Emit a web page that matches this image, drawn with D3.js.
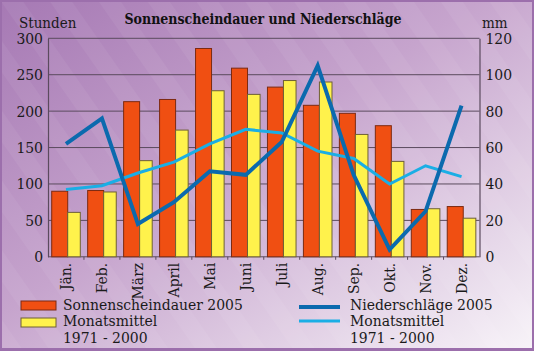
<!DOCTYPE html>
<html>
<head>
<meta charset="utf-8">
<script src="https://cdn.jsdelivr.net/npm/d3@7"></script>
<style>
  body { margin: 0; }
  svg { display: block; font-family: "DejaVu Serif Condensed", "DejaVu Serif", serif; font-stretch: condensed; }
</style>
</head>
<body>
<div id="chart"></div>
<script>
const months = ["Jän.", "Feb.", "März", "April", "Mai", "Juni", "Juli", "Aug.", "Sep.", "Okt.", "Nov.", "Dez."];
const sun2005 = [90, 91, 213, 216, 286, 259, 233, 208, 197, 180, 65, 69];
const sunMean = [61, 89, 132, 174, 228, 223, 242, 240, 168, 131, 66, 53];
const rain2005 = [62, 76, 18, 30, 47, 45, 63, 105, 45, 4, 25, 83];
const rainMean = [37, 39, 46, 52, 62, 70, 68, 58, 54, 40, 50, 44];
const hourTicks = [0, 50, 100, 150, 200, 250, 300];
const mmTicks = [0, 20, 40, 60, 80, 100, 120];

const width = 534;
const height = 351;
const plot = { left: 48, right: 479.5, top: 38.3, bottom: 256.8 };
const fontFamily = '"DejaVu Serif Condensed", "DejaVu Serif", serif';

const svg = d3.select("#chart")
  .append("svg")
  .attr("width", width)
  .attr("height", height);

const defs = svg.append("defs");
const bg = defs.append("linearGradient")
  .attr("id", "bg")
  .attr("x1", "0").attr("y1", "0")
  .attr("x2", "1").attr("y2", "1");
bg.append("stop").attr("offset", "0").attr("stop-color", "#a679b4");
bg.append("stop").attr("offset", "0.45").attr("stop-color", "#c6a4cd");
bg.append("stop").attr("offset", "1").attr("stop-color", "#f7f3f8");

const stripes = defs.append("pattern")
  .attr("id", "stripes")
  .attr("patternUnits", "userSpaceOnUse")
  .attr("width", 40).attr("height", 40)
  .attr("patternTransform", "rotate(-35)");
stripes.append("rect")
  .attr("width", 18).attr("height", 40)
  .attr("fill", "#ffffff").attr("opacity", 0.05);

// frame
svg.append("rect")
  .attr("width", width).attr("height", height)
  .attr("fill", "#9c6fac");
svg.append("rect")
  .attr("x", 2).attr("y", 2)
  .attr("width", width - 4).attr("height", height - 5)
  .attr("fill", "url(#bg)");
svg.append("rect")
  .attr("x", 2).attr("y", 2)
  .attr("width", width - 4).attr("height", height - 5)
  .attr("fill", "url(#stripes)");

const x = d3.scaleBand()
  .domain(months)
  .range([plot.left, plot.right]);

const yHours = d3.scaleLinear()
  .domain([0, 300])
  .range([plot.bottom, plot.top]);

const yMm = d3.scaleLinear()
  .domain([0, 120])
  .range([plot.bottom, plot.top]);

// grid lines
svg.append("g")
  .selectAll("line")
  .data(hourTicks)
  .join("line")
  .attr("x1", plot.left).attr("x2", plot.right)
  .attr("y1", (d) => yHours(d)).attr("y2", (d) => yHours(d))
  .attr("stroke", "#5b4b5e")
  .attr("stroke-width", 1);

// bars
const bw = x.bandwidth();
svg.append("g")
  .selectAll("rect")
  .data(months)
  .join("rect")
  .attr("x", (d) => x(d) + bw * 0.103)
  .attr("y", (d, i) => yHours(sun2005[i]))
  .attr("width", bw * 0.445)
  .attr("height", (d, i) => yHours(0) - yHours(sun2005[i]))
  .attr("fill", "#f04f12")
  .attr("stroke", "#7c2a12")
  .attr("stroke-width", 1);

svg.append("g")
  .selectAll("rect")
  .data(months)
  .join("rect")
  .attr("x", (d) => x(d) + bw * 0.548)
  .attr("y", (d, i) => yHours(sunMean[i]))
  .attr("width", bw * 0.35)
  .attr("height", (d, i) => yHours(0) - yHours(sunMean[i]))
  .attr("fill", "#fff24c")
  .attr("stroke", "#6e6035")
  .attr("stroke-width", 1);

// axes
const axisLeft = svg.append("g")
  .attr("transform", `translate(${plot.left},0)`)
  .call(d3.axisLeft(yHours).tickValues(hourTicks).tickSize(0).tickPadding(5));
const axisRight = svg.append("g")
  .attr("transform", `translate(${plot.right},0)`)
  .call(d3.axisRight(yMm).tickValues(mmTicks).tickSize(0).tickPadding(6));
const axisBottom = svg.append("g")
  .attr("transform", `translate(0,${plot.bottom})`)
  .call(d3.axisBottom(x).tickSize(0).tickPadding(6));

axisBottom.selectAll("text")
  .attr("transform", "rotate(-90)")
  .attr("text-anchor", "end")
  .attr("x", -6)
  .attr("y", 0)
  .attr("dy", "0.35em");

// small ticks between months
svg.append("g")
  .selectAll("line")
  .data(months.slice(1))
  .join("line")
  .attr("x1", (d) => x(d)).attr("x2", (d) => x(d))
  .attr("y1", plot.bottom).attr("y2", plot.bottom + 3)
  .attr("stroke", "#5b4b5e");

[axisLeft, axisRight, axisBottom].forEach((g) => {
  g.select(".domain").attr("stroke", "#5b4b5e").attr("stroke-width", 1.2);
  g.selectAll("text")
    .attr("fill", "#1a1a1a")
    .attr("font-family", fontFamily)
    .attr("font-size", 15.5);
});
axisBottom.select(".domain").remove();

// lines
const line = d3.line()
  .x((d, i) => x(months[i]) + bw / 2)
  .y((d) => yMm(d));

svg.append("path")
  .datum(rainMean)
  .attr("d", line)
  .attr("fill", "none")
  .attr("stroke", "#1aaee5")
  .attr("stroke-width", 3);

svg.append("path")
  .datum(rain2005)
  .attr("d", line)
  .attr("fill", "none")
  .attr("stroke", "#0b6aae")
  .attr("stroke-width", 4);

// titles
svg.append("text")
  .attr("x", 263).attr("y", 24)
  .attr("text-anchor", "middle")
  .attr("font-size", 14)
  .attr("font-weight", "bold")
  .attr("fill", "#111")
  .text("Sonnenscheindauer und Niederschläge");

svg.append("text")
  .attr("x", 19).attr("y", 27.5)
  .attr("font-size", 15)
  .attr("fill", "#1a1a1a")
  .text("Stunden");

svg.append("text")
  .attr("x", 482).attr("y", 27.5)
  .attr("font-size", 15)
  .attr("fill", "#1a1a1a")
  .text("mm");

// legend
const legend = svg.append("g").attr("font-size", 15.5).attr("fill", "#1a1a1a");

legend.append("rect")
  .attr("x", 21).attr("y", 301).attr("width", 35).attr("height", 9)
  .attr("fill", "#f04f12").attr("stroke", "#7c2a12");
legend.append("rect")
  .attr("x", 21).attr("y", 318).attr("width", 35).attr("height", 9)
  .attr("fill", "#fff24c").attr("stroke", "#6e6035");
legend.append("text").attr("x", 63).attr("y", 309.5).text("Sonnenscheindauer 2005");
legend.append("text").attr("x", 63).attr("y", 326).text("Monatsmittel");
legend.append("text").attr("x", 63).attr("y", 342.5).text("1971 - 2000");

legend.append("line")
  .attr("x1", 299).attr("x2", 340).attr("y1", 307).attr("y2", 307)
  .attr("stroke", "#0b6aae").attr("stroke-width", 4);
legend.append("line")
  .attr("x1", 299).attr("x2", 340).attr("y1", 321).attr("y2", 321)
  .attr("stroke", "#1aaee5").attr("stroke-width", 3);
legend.append("text").attr("x", 350).attr("y", 309.5).text("Niederschläge 2005");
legend.append("text").attr("x", 350).attr("y", 326).text("Monatsmittel");
legend.append("text").attr("x", 350).attr("y", 342.5).text("1971 - 2000");
</script>
</body>
</html>
